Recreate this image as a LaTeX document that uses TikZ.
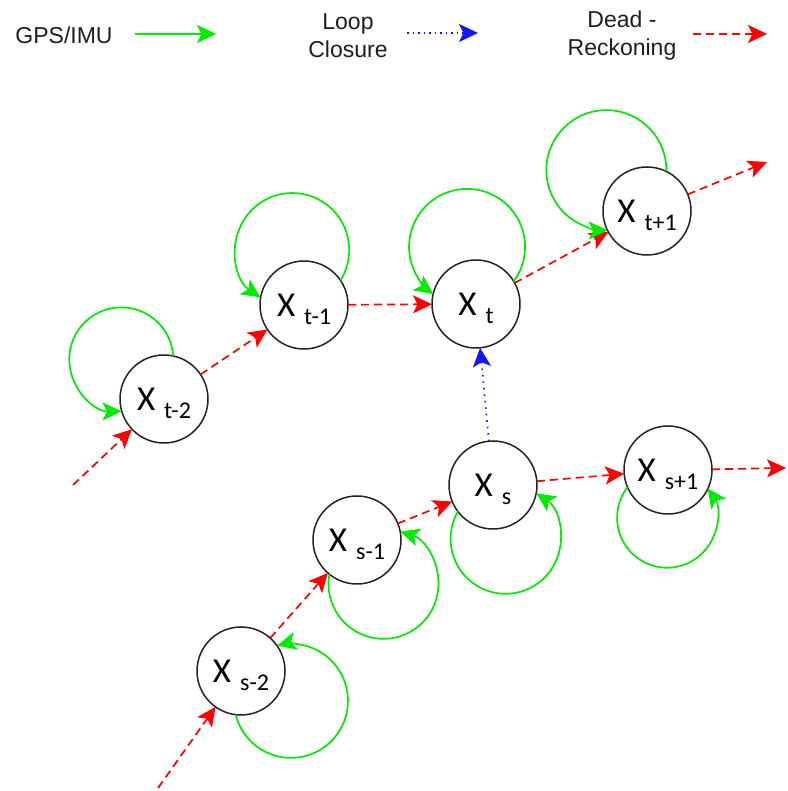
\documentclass[tikz,border=0pt]{standalone}
\usepackage{fontspec}
\setmainfont{Liberation Sans}
\newfontfamily\statefont{Carlito}
\usetikzlibrary{arrows.meta}

\definecolor{gpsgreen}{RGB}{0,235,0}
\definecolor{drred}{RGB}{255,0,0}
\definecolor{lcblue}{RGB}{20,20,255}
\definecolor{rimgray}{RGB}{35,35,35}
\definecolor{legtext}{RGB}{30,30,30}

% "X" with its index set low and to the right
\newcommand\statelabel[1]{{\statefont\fontsize{35}{35}\selectfont X\hspace{9pt}\smash{\raisebox{-8pt}{\fontsize{24}{24}\selectfont #1}}}}

\tikzset{
  tip/.style={-{Stealth[length=19pt,width=18pt,inset=4.5pt]}},
  state/.style={circle,draw=rimgray,line width=1.5pt,minimum size=88pt,inner sep=0pt,outer sep=0pt,fill=white},
  gps/.style={tip,draw=gpsgreen,line width=1.7pt},
  deadreck/.style={tip,draw=drred,line width=1.7pt,dash pattern=on 8pt off 5pt},
  loopcl/.style={tip,draw=lcblue,line width=1.7pt,dash pattern=on 1.5pt off 5pt},
  legend/.style={align=center,text=legtext,font=\fontsize{23}{28}\selectfont,inner sep=0pt},
}

\begin{document}
\begin{tikzpicture}[x=1pt,y=1pt]
\useasboundingbox (0,0) rectangle (787,791);

% ---- legend ----
\node[legend] (lgps) at (64,756) {GPS/IMU};
\coordinate (lg1) at (135,757);
\coordinate (lg2) at (216,757);
\draw[gps] (lg1) -- (lg2);

\node[legend] (lloop) at (348,755) {Loop\\Closure};
\coordinate (lb1) at (407,758);
\coordinate (lb2) at (478,758);
\draw[loopcl, dash pattern=on 1.5pt off 4pt] (lb1) -- (lb2);

\node[legend] (ldr) at (622,755) {Dead -\\Reckoning};
\coordinate (lr1) at (693,757);
\coordinate (lr2) at (767,757);
\draw[deadreck] (lr1) -- (lr2);

% ---- states of the current trajectory ----
\node[state] (t2) at (164,392) {\statelabel{t-2}};
\node[state] (t1) at (304,486) {\statelabel{t-1}};
\node[state] (t0) at (476,487) {\statelabel{t}};
\node[state] (tp) at (647,580) {\statelabel{t+1}};

% ---- states of the earlier pass ----
\node[state] (s2) at (241,120) {\statelabel{s-2}};
\node[state] (s1) at (357,251) {\statelabel{s-1}};
\node[state] (s0) at (493,306) {\statelabel{s}};
\node[state] (sp) at (668,321) {\statelabel{s+1}};

\coordinate (t2in)  at (73,306);
\coordinate (tpout) at (767,629);
\coordinate (s2in)  at (158,3);
\coordinate (spout) at (786,323);

% dead-reckoning chain
\draw[deadreck] (t2in) -- (t2);
\draw[deadreck] (t2) -- (t1);
\draw[deadreck] (t1) -- (t0);
\draw[deadreck] (t0) -- (tp);
\draw[deadreck] (tp) -- (tpout);
\draw[deadreck] (s2in) -- (s2);
\draw[deadreck] (s2) -- (s1);
\draw[deadreck] (s1) -- (s0);
\draw[deadreck] (s0) -- (sp);
\draw[deadreck] (sp) -- (spout);

% loop closure
\draw[loopcl] (s0) -- (t0);

% GPS/IMU self-loops: a circular arc of radius \R whose centre lies at
% distance \D from the state centre, in direction \p
\foreach \n/\p/\D/\R in {t2/137/58/52, t1/102/56/57, t0/99/58/58, tp/135/58/60,
                         s2/329/58/57, s1/301/51/55, s0/283/55/55, sp/269/48/50} {
  \pgfmathsetmacro\al{acos((1936+\D*\D-\R*\R)/(88*\D))}
  \pgfmathsetmacro\be{atan2(-44*sin(\al), 44*cos(\al)-\D)}
  \pgfmathtruncatemacro\sa{round(\p-\al)}
  \draw[gps] (\n.\sa) arc[start angle=\p+\be, end angle=\p-\be, radius=\R pt];
}
\end{tikzpicture}
\end{document}
